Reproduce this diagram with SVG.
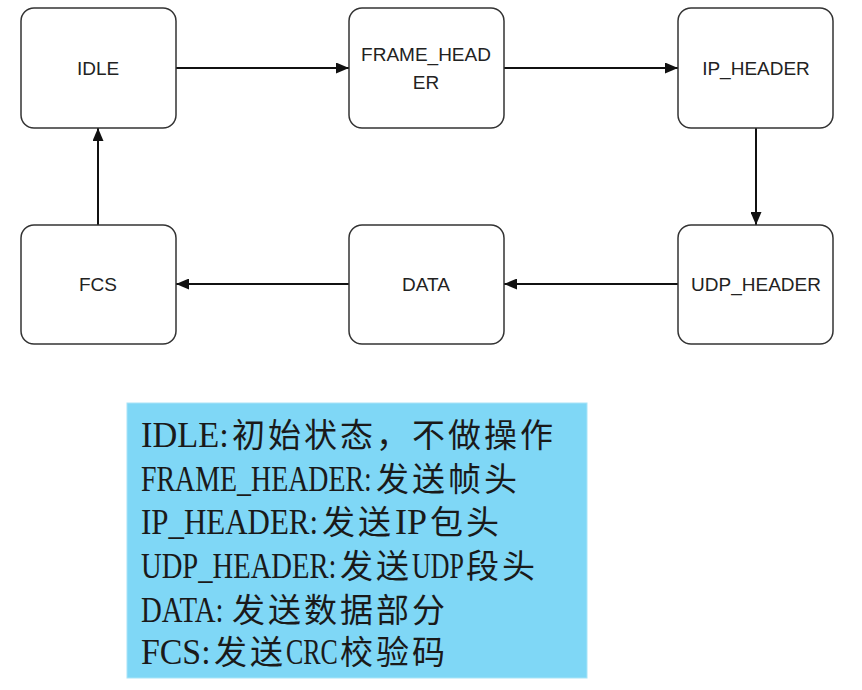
<svg xmlns="http://www.w3.org/2000/svg" width="862" height="690" viewBox="0 0 862 690">
  <style>
    .node rect { fill: #ffffff; stroke: #333333; stroke-width: 1.5; }
    .node text { font-family: "Liberation Sans", Arial, sans-serif; font-size: 19px; fill: #222222; text-anchor: middle; }
    .conn line { stroke: #111111; stroke-width: 2; fill: none; }
    .legend text { fill: #1a1a1a; }
    .lat { font-family: "Liberation Serif", "Times New Roman", serif; font-size: 36px; }
    .cjk { font-family: "Noto Sans CJK SC", sans-serif; font-size: 33px; letter-spacing: 3px; }
  </style>
  <defs>
    <marker id="arrow" markerWidth="13" markerHeight="11" refX="13" refY="5.5" orient="auto" markerUnits="userSpaceOnUse">
      <path d="M0,0 L13,5.5 L0,11 z" fill="#111111"/>
    </marker>
  </defs>
  <rect width="862" height="690" fill="#ffffff"/>

  <g id="connectors" class="conn">
    <line x1="176" y1="68" x2="349" y2="68" marker-end="url(#arrow)"/>
    <line x1="504" y1="68" x2="678" y2="68" marker-end="url(#arrow)"/>
    <line x1="756" y1="128" x2="756" y2="225" marker-end="url(#arrow)"/>
    <line x1="678" y1="284" x2="504" y2="284" marker-end="url(#arrow)"/>
    <line x1="349" y1="284" x2="176" y2="284" marker-end="url(#arrow)"/>
    <line x1="98" y1="225" x2="98" y2="128" marker-end="url(#arrow)"/>
  </g>

  <g id="node-idle" class="node">
    <rect x="21" y="8" width="155" height="120" rx="13"/>
    <text x="98" y="75">IDLE</text>
  </g>
  <g id="node-frame-header" class="node">
    <rect x="349" y="8" width="155" height="120" rx="13"/>
    <text x="426" y="61">FRAME_HEAD</text>
    <text x="426" y="89">ER</text>
  </g>
  <g id="node-ip-header" class="node">
    <rect x="678" y="8" width="155" height="120" rx="13"/>
    <text x="756" y="75">IP_HEADER</text>
  </g>
  <g id="node-udp-header" class="node">
    <rect x="678" y="225" width="155" height="119" rx="13"/>
    <text x="756" y="291">UDP_HEADER</text>
  </g>
  <g id="node-data" class="node">
    <rect x="349" y="225" width="155" height="119" rx="13"/>
    <text x="426" y="291">DATA</text>
  </g>
  <g id="node-fcs" class="node">
    <rect x="21" y="225" width="155" height="119" rx="13"/>
    <text x="98" y="291">FCS</text>
  </g>

  <g id="legend" class="legend">
    <rect x="127" y="403" width="460" height="275" fill="#7fd7f6" stroke="#a9e4f8" stroke-width="1"/>
    <g id="legend-idle">
      <text class="lat" transform="translate(141,447) scale(0.955,1)">IDLE:</text>
      <text class="cjk" x="232" y="447">初始状态，不做操作</text>
    </g>
    <g id="legend-frame">
      <text class="lat" transform="translate(141,491) scale(0.775,1)">FRAME_HEADER:</text>
      <text class="cjk" x="376" y="491">发送帧头</text>
    </g>
    <g id="legend-ip">
      <text class="lat" transform="translate(141,534) scale(0.86,1)">IP_HEADER:</text>
      <text class="cjk" x="322" y="534">发送</text>
      <text class="lat" x="395" y="534">IP</text>
      <text class="cjk" x="430" y="534">包头</text>
    </g>
    <g id="legend-udp">
      <text class="lat" transform="translate(141,578) scale(0.795,1)">UDP_HEADER:</text>
      <text class="cjk" x="340" y="578">发送</text>
      <text class="lat" transform="translate(412,578) scale(0.72,1)">UDP</text>
      <text class="cjk" x="466" y="578">段头</text>
    </g>
    <g id="legend-data">
      <text class="lat" transform="translate(141,622) scale(0.8,1)">DATA:</text>
      <text class="cjk" x="232" y="622">发送数据部分</text>
    </g>
    <g id="legend-fcs">
      <text class="lat" transform="translate(141,664) scale(0.94,1)">FCS:</text>
      <text class="cjk" x="214" y="664">发送</text>
      <text class="lat" transform="translate(286,664) scale(0.72,1)">CRC</text>
      <text class="cjk" x="340" y="664">校验码</text>
    </g>
  </g>
</svg>
